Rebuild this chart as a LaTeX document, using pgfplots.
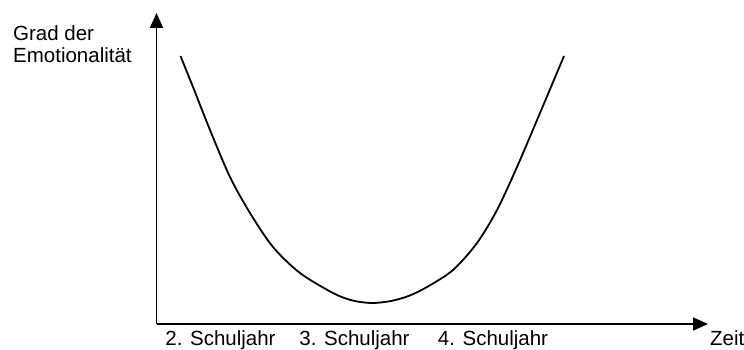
\documentclass[border=0pt]{standalone}
\usepackage{fontspec}
\setmainfont{Liberation Sans}
\usepackage{pgfplots}
\pgfplotsset{compat=1.18}
\usetikzlibrary{arrows.meta}
\begin{document}
\begin{tikzpicture}[x=1bp,y=1bp]
\useasboundingbox (0,0) rectangle (744,349);
\begin{axis}[
  at={(156.5bp,25bp)}, anchor=south west,
  scale only axis, width=551.5bp, height=311bp,
  xmin=0, xmax=551.5, ymin=0, ymax=311,
  axis lines=left,
  axis line style={line width=1.7bp, -{Triangle[length=15bp,width=13bp]}},
  xtick={64,198,336.5},
  xticklabels={2. Schuljahr, 3. Schuljahr, 4. Schuljahr},
  ytick=\empty,
  major tick length=0pt,
  tick label style={font=\fontsize{20.5bp}{22bp}\selectfont},
  label style={font=\fontsize{20.5bp}{22bp}\selectfont},
  xticklabel style={anchor=base, yshift=-21bp, inner sep=0pt},
  xlabel={Zeit},
  xlabel style={at={(rel axis cs:1,0)}, anchor=base west, yshift=-21bp, xshift=2bp, inner sep=0pt},
  ylabel={Grad der\\Emotionalität},
  ylabel style={rotate=-90, align=left, inner sep=0pt, at={(rel axis cs:0,1)}, anchor=north west, xshift=-143.5bp, yshift=-12bp},
  clip=false,
]
\addplot[line width=1.8bp, smooth, black] coordinates {
(24,268)(36.5,237)(53.5,194)(73.5,147)(93.5,111)(116.5,77)(143.5,51)(176.5,31)(196,23.5)(215,21)(234,22.9)(252,28)(270.5,37)(296.5,54)(320.5,81)(340.5,114)(360.5,157)(383.5,211)(407.5,268)};
\end{axis}
\end{tikzpicture}
\end{document}
